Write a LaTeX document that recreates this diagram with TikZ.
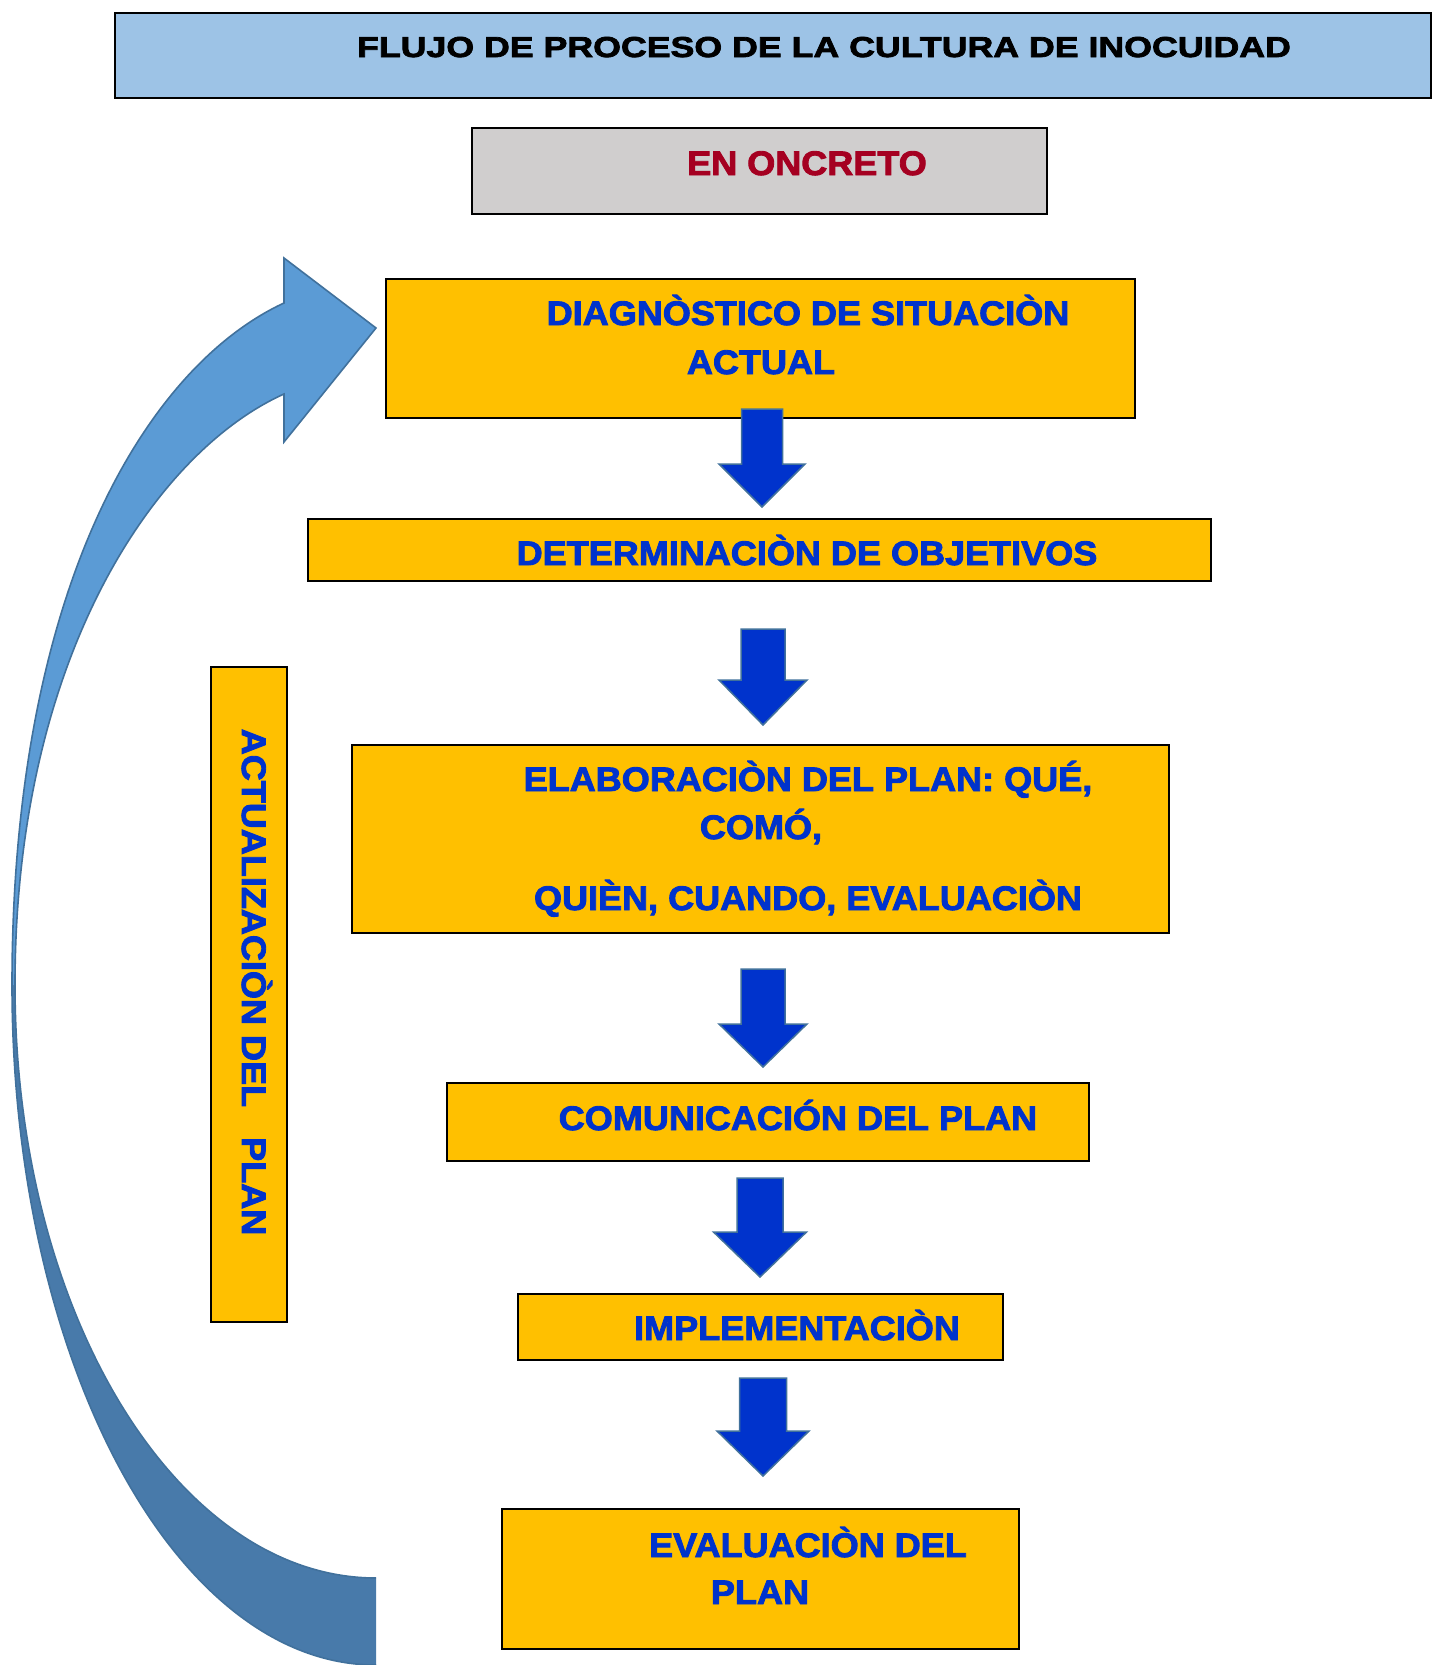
\documentclass[tikz,border=0pt]{standalone}
\usepackage{fontspec}
\newfontfamily\bodyfont[FakeStretch=1.06,FakeBold=2.6]{Liberation Sans}
\newfontfamily\titlefont[FakeStretch=1.24,FakeBold=2.6]{Liberation Sans}
\usetikzlibrary{fit}
\definecolor{ylw}{HTML}{FFC000}
\definecolor{txtblue}{HTML}{0033CC}
\definecolor{arrblue}{HTML}{0033CC}
\definecolor{arredge}{HTML}{41719C}
\definecolor{titlebg}{HTML}{9DC3E6}
\definecolor{greybg}{HTML}{D0CECE}
\definecolor{darkred}{HTML}{A50021}
\definecolor{curvelight}{HTML}{5B9BD5}
\definecolor{curvedark}{HTML}{487AAA}
\newcommand\blockarrow[6]{%
  \draw[blockarr] ({#4-#5},#1) -- ({#4+#5},#1) -- ({#4+#5},#2) -- ({#4+#6},#2)
    -- (#4,#3) -- ({#4-#6},#2) -- ({#4-#5},#2) -- cycle;}
\begin{document}
\begin{tikzpicture}[x=0.5pt,y=-0.5pt,
  box/.style={draw=black, line width=1pt, fill=ylw, inner sep=0pt, outer sep=0pt},
  titlebox/.style={box, fill=titlebg},
  greybox/.style={box, fill=greybg},
  txt/.style={inner sep=0pt, text=txtblue, font=\bodyfont\bfseries\fontsize{17}{20}\selectfont},
  titletxt/.style={inner sep=0pt, text=black, font=\titlefont\bfseries\fontsize{14.4}{17}\selectfont},
  redtxt/.style={txt, text=darkred},
  blockarr/.style={fill=arrblue, draw=arredge, line width=0.75pt, line join=miter},
  curveedge/.style={draw=arredge, line width=0.8pt, line join=miter}]
\useasboundingbox (0,0) rectangle (1432,1665);

% curved return arrow
\fill[curvedark] (376,1665) .. controls (175,1665) and (12,1361) .. (12,985)
  -- (15,985) .. controls (15,1313) and (177,1578) .. (376,1578) -- cycle;
\fill[curvelight] (12,985) .. controls (12,585) and (148,366) .. (284,303)
  -- (284,258) -- (376,328) -- (284,442) -- (284,394)
  .. controls (157,451) and (15,655) .. (15,985) -- cycle;
\draw[curveedge] (376,1665) .. controls (175,1665) and (12,1361) .. (12,985)
  .. controls (12,585) and (148,366) .. (284,303)
  -- (284,258) -- (376,328) -- (284,442) -- (284,394)
  .. controls (157,451) and (15,655) .. (15,985)
  .. controls (15,1313) and (177,1578) .. (376,1578);

% title and subtitle
\node[titlebox, fit={(115,13) (1431,98)}] (title) {};
\node[titletxt, anchor=base] (titleT) at (824,57) {FLUJO DE PROCESO DE LA CULTURA DE INOCUIDAD};
\node[greybox, fit={(472,128) (1047,214)}] (concreto) {};
\node[redtxt, anchor=base] (concretoT) at (807,175) {EN ONCRETO};

% process boxes
\node[box, fit={(386,279) (1135,418)}] (diag) {};
\node[txt, anchor=base] (diagT1) at (808,325) {DIAGNÒSTICO DE SITUACIÒN};
\node[txt, anchor=base] (diagT2) at (761,374) {ACTUAL};

\node[box, fit={(308,519) (1211,581)}] (obj) {};
\node[txt, anchor=base] (objT) at (807,565) {DETERMINACIÒN DE OBJETIVOS};

\node[box, fit={(352,745) (1169,933)}] (elab) {};
\node[txt, anchor=base] (elabT1) at (808,791) {ELABORACIÒN DEL PLAN: QUÉ,};
\node[txt, anchor=base] (elabT2) at (761,839) {COMÓ,};
\node[txt, anchor=base] (elabT3) at (808,910) {QUIÈN, CUANDO, EVALUACIÒN};

\node[box, fit={(447,1083) (1089,1161)}] (com) {};
\node[txt, anchor=base] (comT) at (798,1130) {COMUNICACIÓN DEL PLAN};

\node[box, fit={(518,1294) (1003,1360)}] (impl) {};
\node[txt, anchor=base] (implT) at (797,1340) {IMPLEMENTACIÒN};

\node[box, fit={(502,1509) (1019,1649)}] (eval) {};
\node[txt, anchor=base] (evalT1) at (808,1557) {EVALUACIÒN DEL};
\node[txt, anchor=base] (evalT2) at (760,1604) {PLAN};

% side box
\node[box, fit={(211,667) (287,1322)}] (act) {};
\node[txt, rotate=-90, anchor=base] (actT) at (242,982) {ACTUALIZACIÒN DEL\ \ \ PLAN};

% block arrows
\blockarrow{409}{464}{507}{762}{20.5}{43}
\blockarrow{629}{680}{725}{763}{22}{44}
\blockarrow{969}{1024}{1067}{763}{22}{44}
\blockarrow{1178}{1232}{1277}{760}{23}{46.5}
\blockarrow{1378}{1431}{1476}{763}{23.5}{46}
\end{tikzpicture}
\end{document}
